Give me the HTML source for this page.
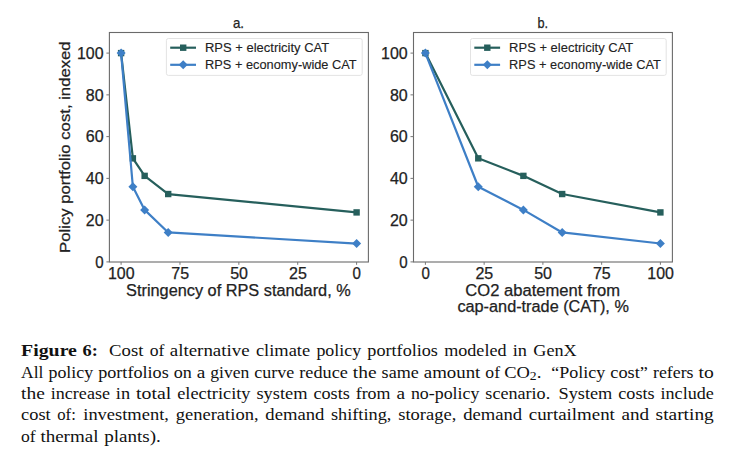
<!DOCTYPE html><html><head><meta charset="utf-8"><style>html,body{margin:0;padding:0;background:#fff;}svg{display:block;}</style></head><body>
<svg width="734" height="454" viewBox="0 0 734 454">
<rect width="734" height="454" fill="#fff"/>
<g font-family="&quot;Liberation Sans&quot;, sans-serif">
<polyline points="121.1,53.1 132.88,158.34 144.65,175.87 168.2,194.04 356.6,212.41" fill="none" stroke="#265f5c" stroke-width="2.2" stroke-linejoin="round"/>
<rect x="117.9" y="49.9" width="6.4" height="6.4" fill="#265f5c"/>
<rect x="129.68" y="155.14" width="6.4" height="6.4" fill="#265f5c"/>
<rect x="141.45" y="172.67" width="6.4" height="6.4" fill="#265f5c"/>
<rect x="165" y="190.84" width="6.4" height="6.4" fill="#265f5c"/>
<rect x="353.4" y="209.21" width="6.4" height="6.4" fill="#265f5c"/>
<polyline points="121.1,53.1 132.88,186.73 144.65,209.91 168.2,232.46 356.6,243.53" fill="none" stroke="#3e7fc6" stroke-width="2.2" stroke-linejoin="round"/>
<path d="M121.1 48.6L125.6 53.1L121.1 57.6L116.6 53.1Z" fill="#3e7fc6"/>
<path d="M132.88 182.23L137.38 186.73L132.88 191.23L128.38 186.73Z" fill="#3e7fc6"/>
<path d="M144.65 205.41L149.15 209.91L144.65 214.41L140.15 209.91Z" fill="#3e7fc6"/>
<path d="M168.2 227.96L172.7 232.46L168.2 236.96L163.7 232.46Z" fill="#3e7fc6"/>
<path d="M356.6 239.03L361.1 243.53L356.6 248.03L352.1 243.53Z" fill="#3e7fc6"/>
<rect x="109.4" y="32.5" width="259" height="229.5" fill="none" stroke="#6a6a6a" stroke-width="1.1"/>
<g fill="#222" stroke="#222" stroke-width="0.25">
<line x1="106.4" y1="261.9" x2="109.4" y2="261.9" stroke="#777" stroke-width="1"/>
<text x="95.2" y="267.65" font-size="15.8" textLength="8.4" lengthAdjust="spacingAndGlyphs">0</text>
<line x1="106.4" y1="220.14" x2="109.4" y2="220.14" stroke="#777" stroke-width="1"/>
<text x="85.8" y="225.89" font-size="15.8" textLength="17.81" lengthAdjust="spacingAndGlyphs">20</text>
<line x1="106.4" y1="178.38" x2="109.4" y2="178.38" stroke="#777" stroke-width="1"/>
<text x="85.8" y="184.13" font-size="15.8" textLength="17.81" lengthAdjust="spacingAndGlyphs">40</text>
<line x1="106.4" y1="136.62" x2="109.4" y2="136.62" stroke="#777" stroke-width="1"/>
<text x="85.8" y="142.37" font-size="15.8" textLength="17.81" lengthAdjust="spacingAndGlyphs">60</text>
<line x1="106.4" y1="94.86" x2="109.4" y2="94.86" stroke="#777" stroke-width="1"/>
<text x="85.8" y="100.61" font-size="15.8" textLength="17.81" lengthAdjust="spacingAndGlyphs">80</text>
<line x1="106.4" y1="53.1" x2="109.4" y2="53.1" stroke="#777" stroke-width="1"/>
<text x="77" y="58.85" font-size="15.8" textLength="26.61" lengthAdjust="spacingAndGlyphs">100</text>
<line x1="121.1" y1="262" x2="121.1" y2="264.8" stroke="#777" stroke-width="1"/>
<text x="108" y="278.7" font-size="15.8" textLength="26.61" lengthAdjust="spacingAndGlyphs">100</text>
<line x1="179.97" y1="262" x2="179.97" y2="264.8" stroke="#777" stroke-width="1"/>
<text x="171.27" y="278.7" font-size="15.8" textLength="17.81" lengthAdjust="spacingAndGlyphs">75</text>
<line x1="238.85" y1="262" x2="238.85" y2="264.8" stroke="#777" stroke-width="1"/>
<text x="230.15" y="278.7" font-size="15.8" textLength="17.81" lengthAdjust="spacingAndGlyphs">50</text>
<line x1="297.73" y1="262" x2="297.73" y2="264.8" stroke="#777" stroke-width="1"/>
<text x="289.03" y="278.7" font-size="15.8" textLength="17.81" lengthAdjust="spacingAndGlyphs">25</text>
<line x1="356.6" y1="262" x2="356.6" y2="264.8" stroke="#777" stroke-width="1"/>
<text x="352.6" y="278.7" font-size="15.8" textLength="8.4" lengthAdjust="spacingAndGlyphs">0</text>
<text x="126.1" y="296" font-size="16.0" textLength="224.6" lengthAdjust="spacingAndGlyphs">Stringency of RPS standard, %</text>
<text x="232.9" y="28" font-size="14.6" textLength="11.1" lengthAdjust="spacingAndGlyphs">a.</text>
</g>
<rect x="166.4" y="38.5" width="195.8" height="36.9" rx="2" fill="#fff" fill-opacity="0.8" stroke="#e3e3e3" stroke-width="1"/>
<line x1="170.2" y1="47.7" x2="196" y2="47.7" stroke="#265f5c" stroke-width="2.2"/>
<rect x="180" y="44.5" width="6.4" height="6.4" fill="#265f5c"/>
<g fill="#222" stroke="#222" stroke-width="0.12"><text x="205" y="52.3" font-size="13.2" textLength="124.2" lengthAdjust="spacingAndGlyphs">RPS + electricity CAT</text></g>
<line x1="170.2" y1="64.8" x2="196" y2="64.8" stroke="#3e7fc6" stroke-width="2.2"/>
<path d="M183.2 60.3L187.7 64.8L183.2 69.3L178.7 64.8Z" fill="#3e7fc6"/>
<g fill="#222" stroke="#222" stroke-width="0.12"><text x="205" y="69.4" font-size="13.2" textLength="151.7" lengthAdjust="spacingAndGlyphs">RPS + economy-wide CAT</text></g>
<polyline points="425.4,53.1 478.27,158.34 523.39,175.87 562.17,194.04 660.4,212.41" fill="none" stroke="#265f5c" stroke-width="2.2" stroke-linejoin="round"/>
<rect x="422.2" y="49.9" width="6.4" height="6.4" fill="#265f5c"/>
<rect x="475.07" y="155.14" width="6.4" height="6.4" fill="#265f5c"/>
<rect x="520.19" y="172.67" width="6.4" height="6.4" fill="#265f5c"/>
<rect x="558.97" y="190.84" width="6.4" height="6.4" fill="#265f5c"/>
<rect x="657.2" y="209.21" width="6.4" height="6.4" fill="#265f5c"/>
<polyline points="425.4,53.1 478.27,186.73 523.39,209.91 562.17,232.46 660.4,243.53" fill="none" stroke="#3e7fc6" stroke-width="2.2" stroke-linejoin="round"/>
<path d="M425.4 48.6L429.9 53.1L425.4 57.6L420.9 53.1Z" fill="#3e7fc6"/>
<path d="M478.27 182.23L482.77 186.73L478.27 191.23L473.77 186.73Z" fill="#3e7fc6"/>
<path d="M523.39 205.41L527.89 209.91L523.39 214.41L518.89 209.91Z" fill="#3e7fc6"/>
<path d="M562.17 227.96L566.67 232.46L562.17 236.96L557.67 232.46Z" fill="#3e7fc6"/>
<path d="M660.4 239.03L664.9 243.53L660.4 248.03L655.9 243.53Z" fill="#3e7fc6"/>
<rect x="413.5" y="32.5" width="258.9" height="229.5" fill="none" stroke="#6a6a6a" stroke-width="1.1"/>
<g fill="#222" stroke="#222" stroke-width="0.25">
<line x1="410.5" y1="261.9" x2="413.5" y2="261.9" stroke="#777" stroke-width="1"/>
<text x="399.3" y="267.65" font-size="15.8" textLength="8.4" lengthAdjust="spacingAndGlyphs">0</text>
<line x1="410.5" y1="220.14" x2="413.5" y2="220.14" stroke="#777" stroke-width="1"/>
<text x="389.9" y="225.89" font-size="15.8" textLength="17.81" lengthAdjust="spacingAndGlyphs">20</text>
<line x1="410.5" y1="178.38" x2="413.5" y2="178.38" stroke="#777" stroke-width="1"/>
<text x="389.9" y="184.13" font-size="15.8" textLength="17.81" lengthAdjust="spacingAndGlyphs">40</text>
<line x1="410.5" y1="136.62" x2="413.5" y2="136.62" stroke="#777" stroke-width="1"/>
<text x="389.9" y="142.37" font-size="15.8" textLength="17.81" lengthAdjust="spacingAndGlyphs">60</text>
<line x1="410.5" y1="94.86" x2="413.5" y2="94.86" stroke="#777" stroke-width="1"/>
<text x="389.9" y="100.61" font-size="15.8" textLength="17.81" lengthAdjust="spacingAndGlyphs">80</text>
<line x1="410.5" y1="53.1" x2="413.5" y2="53.1" stroke="#777" stroke-width="1"/>
<text x="381.1" y="58.85" font-size="15.8" textLength="26.61" lengthAdjust="spacingAndGlyphs">100</text>
<line x1="425.4" y1="262" x2="425.4" y2="264.8" stroke="#777" stroke-width="1"/>
<text x="421.4" y="278.7" font-size="15.8" textLength="8.4" lengthAdjust="spacingAndGlyphs">0</text>
<line x1="484.15" y1="262" x2="484.15" y2="264.8" stroke="#777" stroke-width="1"/>
<text x="475.45" y="278.7" font-size="15.8" textLength="17.81" lengthAdjust="spacingAndGlyphs">25</text>
<line x1="542.9" y1="262" x2="542.9" y2="264.8" stroke="#777" stroke-width="1"/>
<text x="534.2" y="278.7" font-size="15.8" textLength="17.81" lengthAdjust="spacingAndGlyphs">50</text>
<line x1="601.65" y1="262" x2="601.65" y2="264.8" stroke="#777" stroke-width="1"/>
<text x="592.95" y="278.7" font-size="15.8" textLength="17.81" lengthAdjust="spacingAndGlyphs">75</text>
<line x1="660.4" y1="262" x2="660.4" y2="264.8" stroke="#777" stroke-width="1"/>
<text x="647.3" y="278.7" font-size="15.8" textLength="26.61" lengthAdjust="spacingAndGlyphs">100</text>
<text x="465.3" y="296.1" font-size="16.0" textLength="154.81" lengthAdjust="spacingAndGlyphs">CO2 abatement from</text>
<text x="457.4" y="312.4" font-size="16.0" textLength="171.49" lengthAdjust="spacingAndGlyphs">cap-and-trade (CAT), %</text>
<text x="537.5" y="28" font-size="14.6" textLength="10.6" lengthAdjust="spacingAndGlyphs">b.</text>
</g>
<rect x="470.5" y="38.5" width="195.7" height="36.9" rx="2" fill="#fff" fill-opacity="0.8" stroke="#e3e3e3" stroke-width="1"/>
<line x1="474.3" y1="47.7" x2="500.1" y2="47.7" stroke="#265f5c" stroke-width="2.2"/>
<rect x="484.1" y="44.5" width="6.4" height="6.4" fill="#265f5c"/>
<g fill="#222" stroke="#222" stroke-width="0.12"><text x="509.1" y="52.3" font-size="13.2" textLength="124.2" lengthAdjust="spacingAndGlyphs">RPS + electricity CAT</text></g>
<line x1="474.3" y1="64.8" x2="500.1" y2="64.8" stroke="#3e7fc6" stroke-width="2.2"/>
<path d="M487.3 60.3L491.8 64.8L487.3 69.3L482.8 64.8Z" fill="#3e7fc6"/>
<g fill="#222" stroke="#222" stroke-width="0.12"><text x="509.1" y="69.4" font-size="13.2" textLength="151.7" lengthAdjust="spacingAndGlyphs">RPS + economy-wide CAT</text></g>
<g fill="#222" stroke="#222" stroke-width="0.25"><text x="-252.9" y="0" font-size="15.3" textLength="211.51" lengthAdjust="spacingAndGlyphs" transform="translate(69.9 0) rotate(-90)">Policy portfolio cost, indexed</text></g>
</g>
<g font-family="&quot;Liberation Serif&quot;, serif" fill="#111" font-size="17">
<text x="21.10" y="356.20" font-weight="bold" textLength="55.79" lengthAdjust="spacingAndGlyphs">Figure</text>
<text x="82.58" y="356.20" font-weight="bold" textLength="15.31" lengthAdjust="spacingAndGlyphs">6:</text>
<text x="109.10" y="356.20" textLength="34.33" lengthAdjust="spacingAndGlyphs">Cost</text>
<text x="149.69" y="356.20" textLength="14.65" lengthAdjust="spacingAndGlyphs">of</text>
<text x="169.74" y="356.20" textLength="79.94" lengthAdjust="spacingAndGlyphs">alternative</text>
<text x="255.95" y="356.20" textLength="54.20" lengthAdjust="spacingAndGlyphs">climate</text>
<text x="316.42" y="356.20" textLength="44.71" lengthAdjust="spacingAndGlyphs">policy</text>
<text x="367.39" y="356.20" textLength="70.55" lengthAdjust="spacingAndGlyphs">portfolios</text>
<text x="444.20" y="356.20" textLength="62.31" lengthAdjust="spacingAndGlyphs">modeled</text>
<text x="512.76" y="356.20" textLength="14.27" lengthAdjust="spacingAndGlyphs">in</text>
<text x="533.30" y="356.20" textLength="43.40" lengthAdjust="spacingAndGlyphs">GenX</text>
<text x="21.10" y="377.50" textLength="22.36" lengthAdjust="spacingAndGlyphs">All</text>
<text x="48.45" y="377.50" textLength="44.71" lengthAdjust="spacingAndGlyphs">policy</text>
<text x="98.16" y="377.50" textLength="70.55" lengthAdjust="spacingAndGlyphs">portfolios</text>
<text x="173.70" y="377.50" textLength="18.08" lengthAdjust="spacingAndGlyphs">on</text>
<text x="196.77" y="377.50" textLength="8.56" lengthAdjust="spacingAndGlyphs">a</text>
<text x="210.32" y="377.50" textLength="38.99" lengthAdjust="spacingAndGlyphs">given</text>
<text x="254.31" y="377.50" textLength="39.99" lengthAdjust="spacingAndGlyphs">curve</text>
<text x="299.30" y="377.50" textLength="48.54" lengthAdjust="spacingAndGlyphs">reduce</text>
<text x="352.84" y="377.50" textLength="23.77" lengthAdjust="spacingAndGlyphs">the</text>
<text x="381.61" y="377.50" textLength="37.16" lengthAdjust="spacingAndGlyphs">same</text>
<text x="423.77" y="377.50" textLength="56.59" lengthAdjust="spacingAndGlyphs">amount</text>
<text x="485.36" y="377.50" textLength="14.65" lengthAdjust="spacingAndGlyphs">of</text>
<text x="504.15" y="377.50" textLength="25.68" lengthAdjust="spacingAndGlyphs">CO</text>
<text x="529.83" y="379.70" font-size="11.5" textLength="6.82" lengthAdjust="spacingAndGlyphs">2</text>
<text x="536.65" y="377.50" textLength="4.76" lengthAdjust="spacingAndGlyphs">.</text>
<text x="551.37" y="377.50" textLength="53.97" lengthAdjust="spacingAndGlyphs">“Policy</text>
<text x="610.34" y="377.50" textLength="37.64" lengthAdjust="spacingAndGlyphs">cost”</text>
<text x="652.98" y="377.50" textLength="40.61" lengthAdjust="spacingAndGlyphs">refers</text>
<text x="698.58" y="377.50" textLength="15.22" lengthAdjust="spacingAndGlyphs">to</text>
<text x="21.10" y="398.80" textLength="23.77" lengthAdjust="spacingAndGlyphs">the</text>
<text x="50.82" y="398.80" textLength="59.11" lengthAdjust="spacingAndGlyphs">increase</text>
<text x="115.87" y="398.80" textLength="14.27" lengthAdjust="spacingAndGlyphs">in</text>
<text x="136.09" y="398.80" textLength="35.21" lengthAdjust="spacingAndGlyphs">total</text>
<text x="177.23" y="398.80" textLength="73.27" lengthAdjust="spacingAndGlyphs">electricity</text>
<text x="256.45" y="398.80" textLength="51.05" lengthAdjust="spacingAndGlyphs">system</text>
<text x="313.44" y="398.80" textLength="36.31" lengthAdjust="spacingAndGlyphs">costs</text>
<text x="355.70" y="398.80" textLength="34.77" lengthAdjust="spacingAndGlyphs">from</text>
<text x="396.41" y="398.80" textLength="8.56" lengthAdjust="spacingAndGlyphs">a</text>
<text x="410.92" y="398.80" textLength="68.49" lengthAdjust="spacingAndGlyphs">no-policy</text>
<text x="485.36" y="398.80" textLength="64.81" lengthAdjust="spacingAndGlyphs">scenario.</text>
<text x="558.50" y="398.80" textLength="53.82" lengthAdjust="spacingAndGlyphs">System</text>
<text x="618.27" y="398.80" textLength="36.31" lengthAdjust="spacingAndGlyphs">costs</text>
<text x="660.52" y="398.80" textLength="53.28" lengthAdjust="spacingAndGlyphs">include</text>
<text x="21.10" y="420.00" textLength="29.56" lengthAdjust="spacingAndGlyphs">cost</text>
<text x="57.25" y="420.00" textLength="18.56" lengthAdjust="spacingAndGlyphs">of:</text>
<text x="83.26" y="420.00" textLength="85.69" lengthAdjust="spacingAndGlyphs">investment,</text>
<text x="175.74" y="420.00" textLength="82.81" lengthAdjust="spacingAndGlyphs">generation,</text>
<text x="265.35" y="420.00" textLength="58.97" lengthAdjust="spacingAndGlyphs">demand</text>
<text x="330.91" y="420.00" textLength="60.51" lengthAdjust="spacingAndGlyphs">shifting,</text>
<text x="398.23" y="420.00" textLength="58.15" lengthAdjust="spacingAndGlyphs">storage,</text>
<text x="463.18" y="420.00" textLength="58.97" lengthAdjust="spacingAndGlyphs">demand</text>
<text x="528.74" y="420.00" textLength="86.12" lengthAdjust="spacingAndGlyphs">curtailment</text>
<text x="621.45" y="420.00" textLength="27.59" lengthAdjust="spacingAndGlyphs">and</text>
<text x="655.63" y="420.00" textLength="58.16" lengthAdjust="spacingAndGlyphs">starting</text>
<text x="20.90" y="441.50" textLength="14.65" lengthAdjust="spacingAndGlyphs">of</text>
<text x="40.40" y="441.50" textLength="58.07" lengthAdjust="spacingAndGlyphs">thermal</text>
<text x="104.18" y="441.50" textLength="56.70" lengthAdjust="spacingAndGlyphs">plants).</text>
</g>
</svg></body></html>
